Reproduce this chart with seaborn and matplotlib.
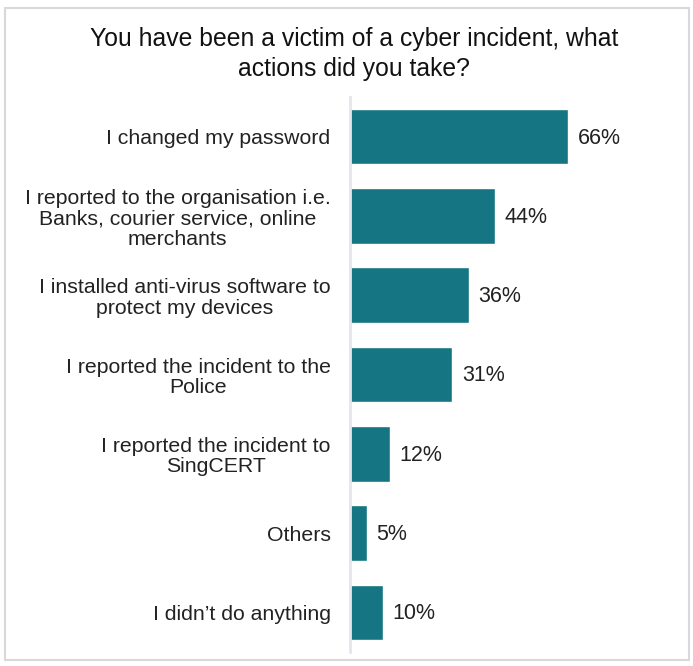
import matplotlib.pyplot as plt
import pandas as pd
import seaborn as sns
from matplotlib.patches import Rectangle

# Data
actions = [
    'I changed my password',
    'I reported to the organisation i.e.\nBanks, courier service, online\nmerchants',
    'I installed anti-virus software to\nprotect my devices',
    'I reported the incident to the\nPolice',
    'I reported the incident to\nSingCERT',
    'Others',
    'I didn\u2019t do anything',
]
percent = [66, 44, 36, 31, 12, 5, 10]

df = pd.DataFrame({'action': actions, 'percent': percent})

sns.set_theme(style='white')
plt.rcParams['font.family'] = ['Liberation Sans', 'DejaVu Sans']

fig = plt.figure(figsize=(6.93, 6.66), dpi=100)
ax = fig.add_axes([350 / 693, 1 - 652 / 666, 330 / 693, 555 / 666])

sns.barplot(data=df, x='percent', y='action', orient='h', color='#157582',
            saturation=1, width=0.7, ax=ax)

ax.set_xlim(0, 100)
ax.set_ylim(6.5, -0.5)
ax.set_xlabel('')
ax.set_ylabel('')
ax.set_xticks([])
for s in ['top', 'right', 'bottom']:
    ax.spines[s].set_visible(False)
ax.spines['left'].set_color('#e3e6ea')
ax.spines['left'].set_linewidth(2)
ax.tick_params(axis='y', length=0, pad=14, labelsize=15.3, labelcolor='#222222')
for t in ax.get_yticklabels():
    t.set_multialignment('center')
    t.set_linespacing(1.1)

for i, v in enumerate(percent):
    ax.annotate(f'{v}%', (v, i), xytext=(7, -1), textcoords='offset points',
                va='center', ha='left', fontsize=15.5, color='#222222')

fig.text(354 / 693, 1 - 54 / 666, 'You have been a victim of a cyber incident, what\nactions did you take?',
         ha='center', va='center', fontsize=17.8, color='#111111', linespacing=1.3)

# light frame around the chart
fig.patches.append(Rectangle((5 / 693, 6 / 666), 684 / 693, 652 / 666, transform=fig.transFigure,
                             fill=False, edgecolor='#d9d9d9', linewidth=1.5))

fig.savefig('out.png', dpi=100)
